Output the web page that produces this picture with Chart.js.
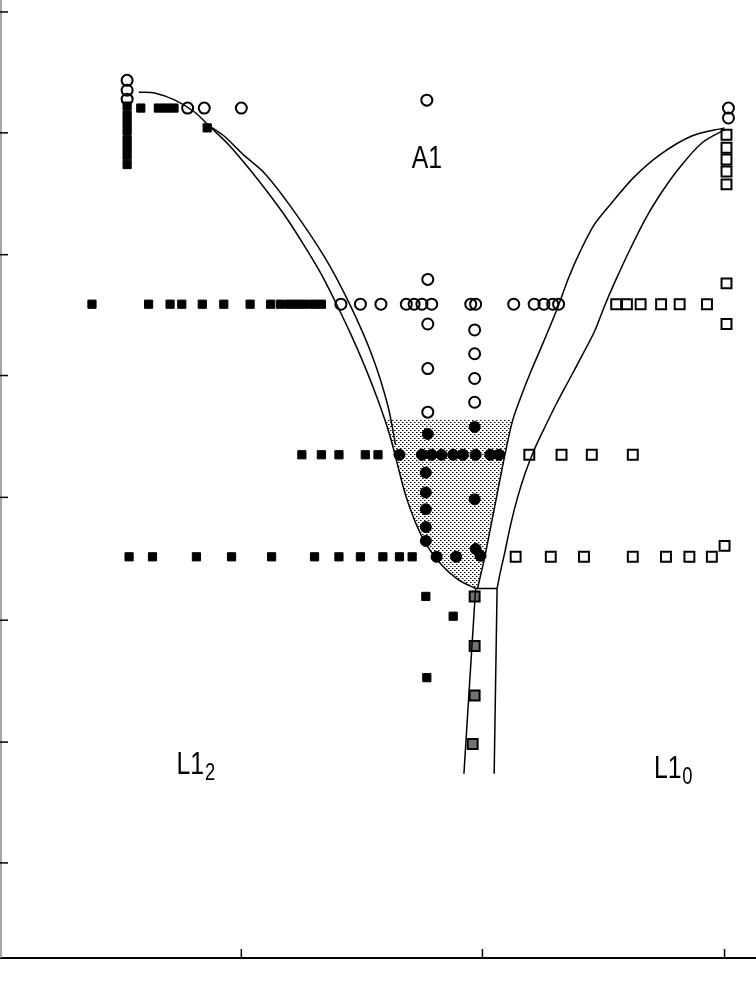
<!DOCTYPE html>
<html>
<head>
<meta charset="utf-8">
<script src="https://cdn.jsdelivr.net/npm/chart.js@4.4.1/dist/chart.umd.min.js"></script>
<style>
  html, body { margin: 0; padding: 0; background: #fff; }
  #wrap { width: 756px; height: 986px; }
</style>
</head>
<body>
<div id="wrap"><canvas id="myChart" width="756" height="986"></canvas></div>
<script>
// axis ticks (no labels in the original)
const xTicks = [23.8, 48.5, 73.3];
const yTicks = [9.6, 21.8, 34.1, 46.5, 58.8, 71.0, 83.3, 95.5];

// two-phase / ordered samples (filled squares)
const filledSquares = [
  [12.1, 86.0], [12.1, 85.1], [12.1, 84.3], [12.1, 83.5], [12.1, 82.6], [12.1, 81.8], [12.1, 81.0], [12.1, 80.1],
  [13.5, 85.8], [15.3, 85.8], [16.1, 85.8], [16.9, 85.8], [20.3, 83.8],
  [8.5, 66.0], [14.3, 66.0], [16.5, 66.0], [17.7, 66.0], [19.8, 66.0], [22.0, 66.0], [24.7, 66.0],
  [26.8, 66.0], [27.8, 66.0], [28.7, 66.0], [29.5, 66.0], [30.3, 66.0], [31.2, 66.0], [32.0, 66.0],
  [30.0, 50.8], [32.0, 50.8], [33.8, 50.8], [36.5, 50.8], [37.8, 50.8],
  [12.3, 40.5], [14.7, 40.5], [19.2, 40.5], [22.8, 40.5], [26.9, 40.5], [31.3, 40.5], [33.8, 40.5],
  [36.0, 40.5], [38.3, 40.5], [40.0, 40.5], [41.3, 40.5],
  [42.7, 36.5], [45.5, 34.5], [42.8, 28.3]
];
// samples inside the two-phase field (filled circles)
const filledCircles = [
  [40.0, 50.8], [42.3, 50.8], [43.3, 50.8], [44.3, 50.8], [45.5, 50.8], [46.5, 50.8], [47.8, 50.8], [49.3, 50.8], [50.2, 50.8],
  [42.9, 52.9], [47.7, 53.6], [42.7, 49.0], [42.7, 47.0], [42.7, 45.3], [42.7, 43.5], [42.7, 42.1],
  [43.8, 40.5], [45.8, 40.5], [47.8, 41.3], [48.3, 40.6], [47.7, 46.3]
];
// disordered A1 samples (open circles)
const openCircles = [
  [12.1, 88.6], [12.1, 87.6], [12.1, 86.7], [18.3, 85.8], [20.0, 85.8], [23.8, 85.8], [42.8, 86.6],
  [73.7, 85.8], [73.7, 84.8],
  [34.0, 66.0], [36.0, 66.0], [38.1, 66.0], [40.7, 66.0], [41.5, 66.0], [42.3, 66.0], [43.3, 66.0],
  [47.3, 66.0], [47.8, 66.0], [51.7, 66.0], [53.8, 66.0], [54.8, 66.0], [55.7, 66.0], [56.3, 66.0],
  [42.9, 68.5], [42.9, 64.0], [42.9, 59.5], [42.9, 55.1],
  [47.7, 63.4], [47.7, 61.0], [47.7, 58.5], [47.7, 56.1]
];
// L1_0 samples (open squares)
const openSquares = [
  [73.5, 83.1], [73.5, 81.8], [73.5, 80.6], [73.5, 79.4], [73.5, 78.1], [73.5, 68.1], [73.5, 64.0],
  [62.2, 66.0], [63.3, 66.0], [64.7, 66.0], [66.8, 66.0], [68.7, 66.0], [71.5, 66.0],
  [53.3, 50.8], [56.6, 50.8], [59.7, 50.8], [63.9, 50.8],
  [51.9, 40.5], [55.5, 40.5], [58.9, 40.5], [63.9, 40.5], [67.3, 40.5], [69.7, 40.5], [72.0, 40.5], [73.3, 41.6]
];
// mixed samples on the L1_0 boundary (half filled squares)
const mixedSquares = [[47.7, 36.5], [47.7, 31.5], [47.7, 26.5], [47.5, 21.6]];

// phase boundaries
const leftOuter = [
  [13.3, 87.4], [15.0, 87.3], [17.0, 86.6], [19.0, 85.4], [20.5, 84.0], [22.5, 82.1], [24.5, 79.8],
  [26.5, 77.3], [28.5, 74.6], [30.5, 71.5], [32.0, 69.0], [33.5, 66.1], [35.0, 63.0], [36.5, 59.6],
  [37.8, 56.3], [39.0, 52.8], [39.8, 49.8], [40.6, 46.8], [41.5, 44.3], [42.7, 41.8], [44.3, 39.7],
  [46.0, 38.2], [47.8, 37.3]
];
const leftInner = [
  [20.5, 84.0], [22.0, 83.0], [24.0, 81.1], [26.2, 79.2], [28.9, 75.8], [32.3, 70.8], [34.9, 66.0],
  [37.2, 60.8], [38.8, 55.8], [39.6, 51.8]
];
const rightUpper = [
  [73.3, 83.8], [70.0, 83.0], [66.7, 81.1], [64.0, 78.8], [61.8, 76.3], [60.0, 74.1], [58.5, 71.3],
  [57.3, 68.6], [56.3, 65.9], [54.8, 62.3], [53.5, 59.3], [52.5, 56.8], [51.6, 54.3], [50.8, 50.8],
  [50.0, 46.8], [49.3, 43.3], [48.7, 40.3], [48.3, 38.6], [48.0, 37.3]
];
const rightLower = [
  [73.3, 83.6], [71.0, 82.3], [68.7, 79.8], [67.0, 77.5], [65.3, 74.8], [63.6, 71.5], [62.0, 68.1],
  [61.0, 65.8], [60.0, 63.3], [58.7, 60.8], [57.4, 58.4], [56.1, 56.0], [54.9, 53.6], [53.8, 51.3],
  [52.9, 49.0], [52.1, 46.5], [51.4, 43.8], [50.8, 41.0], [50.3, 38.8], [50.0, 37.3]
];
const rightVertical = [[50.0, 37.3], [49.85, 28.0], [49.7, 18.6]];
const tieLine = [[47.8, 37.3], [50.0, 37.3]];
const leftVertical = [[47.8, 37.3], [47.2, 28.0], [46.6, 18.6]];

// shaded two-phase field outline
const shadeOutline = [
  [38.6, 54.3], [51.6, 54.3], [50.8, 50.8], [50.0, 46.8], [49.3, 43.3], [48.7, 40.3], [48.3, 38.6], [48.0, 37.3],
  [46.0, 38.2], [44.3, 39.7], [42.7, 41.8], [41.5, 44.3], [40.6, 46.8], [39.8, 49.8], [39.0, 52.8]
];

// phase labels (baseline positions)
const phaseLabels = [
  { text: 'A1', sub: '', x: 42.8, y: 79.7 },
  { text: 'L1', sub: '2', x: 19.1, y: 18.6 },
  { text: 'L1', sub: '0', x: 68.0, y: 18.2 }
];

function pts(arr) {
    return arr.map(p => ({ x: p[0], y: p[1] }));
}

var pc = document.createElement('canvas');
pc.width = 4; pc.height = 4;
var pctx = pc.getContext('2d');
pctx.fillStyle = '#000';
pctx.fillRect(0, 0, 1.5, 1);
pctx.fillRect(2, 2, 1.5, 1);
var ctx = document.getElementById('myChart').getContext('2d');
var dots = ctx.createPattern(pc, 'repeat');

function curve(arr, tension) {
    return {
        data: pts(arr), showLine: true, pointRadius: 0, borderColor: '#000',
        borderWidth: 1.5, tension: tension, fill: false, order: 5
    };
}

const shadePlugin = {
    id: 'shade',
    beforeDatasetsDraw(chart) {
        const c = chart.ctx, xs = chart.scales.x, ys = chart.scales.y;
        c.save();
        c.beginPath();
        shadeOutline.forEach((p, i) => {
            const px = xs.getPixelForValue(p[0]), py = ys.getPixelForValue(p[1]);
            if (i === 0) c.moveTo(px, py); else c.lineTo(px, py);
        });
        c.closePath();
        c.fillStyle = dots;
        c.fill();
        c.restore();
    }
};

const FONT = '"Liberation Sans", Arimo, Helvetica, sans-serif';

const axesPlugin = {
    id: 'frame',
    afterDraw(chart) {
        const c = chart.ctx, a = chart.chartArea, xs = chart.scales.x, ys = chart.scales.y;
        c.save();
        c.strokeStyle = '#000';
        c.lineWidth = 2;
        c.beginPath();
        c.moveTo(0, a.bottom); c.lineTo(756, a.bottom);
        c.stroke();
        c.strokeStyle = '#888';
        c.lineWidth = 1.5;
        c.beginPath();
        c.moveTo(1, 0); c.lineTo(1, a.bottom);
        c.stroke();
        c.strokeStyle = '#000';
        c.lineWidth = 1.5;
        xTicks.forEach(t => {
            const px = xs.getPixelForValue(t);
            c.beginPath(); c.moveTo(px, a.bottom); c.lineTo(px, a.bottom - 9); c.stroke();
        });
        yTicks.forEach(t => {
            const py = ys.getPixelForValue(t);
            c.beginPath(); c.moveTo(0, py); c.lineTo(8, py); c.stroke();
        });
        // phase labels, narrow sans
        c.fillStyle = '#000';
        c.textBaseline = 'alphabetic';
        c.textAlign = 'left';
        const sx = 0.8;
        phaseLabels.forEach(l => {
            const px = xs.getPixelForValue(l.x), py = ys.getPixelForValue(l.y);
            c.font = '31px ' + FONT;
            const w1 = c.measureText(l.text).width * sx;
            c.font = '23px ' + FONT;
            const w2 = l.sub ? c.measureText(l.sub).width * sx : 0;
            const x0 = px - (w1 + w2) / 2;
            c.save();
            c.translate(x0, py);
            c.scale(sx, 1);
            c.font = '31px ' + FONT;
            c.fillText(l.text, 0, 0);
            if (l.sub) {
                c.font = '23px ' + FONT;
                c.fillText(l.sub, w1 / sx + 1, 6);
            }
            c.restore();
        });
        c.restore();
    }
};

const myChart = new Chart(ctx, {
    type: 'scatter',
    data: {
        datasets: [
            curve(leftOuter, 0.3), curve(leftInner, 0.3), curve(rightUpper, 0.3), curve(rightLower, 0.3),
            curve(rightVertical, 0), curve(tieLine, 0), curve(leftVertical, 0),
            {
                data: pts(filledSquares), pointStyle: 'rect', pointRadius: 5.8,
                backgroundColor: '#000', borderColor: '#000', borderWidth: 1, order: 1
            },
            {
                data: pts(filledCircles), pointStyle: 'circle', pointRadius: 5.5,
                backgroundColor: '#000', borderColor: '#000', borderWidth: 1, order: 1
            },
            {
                data: pts(openCircles), pointStyle: 'circle', pointRadius: 5.5,
                backgroundColor: 'rgba(0,0,0,0)', borderColor: '#000', borderWidth: 2, order: 1
            },
            {
                data: pts(openSquares), pointStyle: 'rect', pointRadius: 7,
                backgroundColor: 'rgba(0,0,0,0)', borderColor: '#000', borderWidth: 2, order: 1
            },
            {
                data: pts(mixedSquares), pointStyle: 'rect', pointRadius: 7,
                backgroundColor: 'rgba(0,0,0,0.55)', borderColor: '#000', borderWidth: 2, order: 1
            }
        ]
    },
    options: {
        responsive: false,
        animation: false,
        devicePixelRatio: 1,
        layout: { padding: { left: 0, right: 0, top: 0, bottom: 28 } },
        plugins: { legend: { display: false }, tooltip: { enabled: false } },
        scales: {
            x: { type: 'linear', min: 0, max: 75.6, display: false },
            y: { type: 'linear', min: 0, max: 95.8, display: false }
        }
    },
    plugins: [shadePlugin, axesPlugin]
});
</script>
</body>
</html>
